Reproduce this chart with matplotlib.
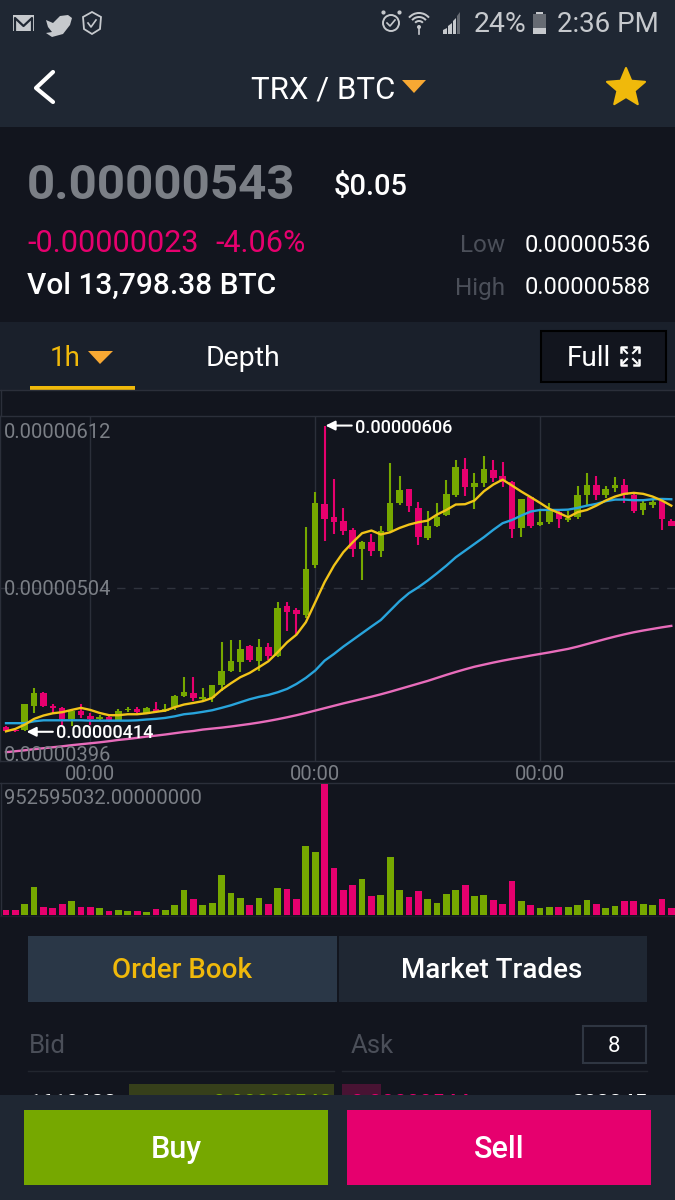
import numpy as np
import matplotlib
matplotlib.use("Agg")
import matplotlib.pyplot as plt
from matplotlib.patches import Rectangle, Polygon, Circle, Wedge

plt.rcParams["font.family"] = ["Roboto", "DejaVu Sans"]

#
# Chart data, prices in units of 1e-8 BTC, volume in millions
#

opens = [417.3, 415.2, 415.2, 430.4, 438.6, 430.4, 429.0, 422.1, 427.3, 423.7, 422.1, 423.1,
         421.4, 427.5, 428.6, 425.6, 428.3, 427.3, 429.4, 436.5, 438.6, 434.6, 435.2, 443.4,
         452.4, 457.6, 467.6, 458.6, 467.4, 461.8, 492.7, 490.6, 487.5, 518.6, 557.1, 548.5,
         546.4, 540.6, 528.7, 532.8, 527.6, 539.7, 557.3, 566.3, 554.6, 535.4, 543.3, 550.2,
         562.5, 579.0, 567.3, 570.3, 578.4, 574.2, 570.5, 541.6, 561.1, 543.5, 545.8, 552.1,
         547.1, 548.5, 562.7, 568.6, 562.7, 567.1, 569.0, 562.7, 553.1, 556.3, 558.6, 546.0]
closes = [414.8, 414.2, 431.5, 438.6, 430.4, 428.8, 422.1, 427.3, 424.6, 422.3, 423.1, 421.4,
          427.3, 428.3, 426.3, 429.0, 426.7, 428.3, 436.3, 439.2, 435.2, 435.7, 443.4, 452.2,
          458.6, 466.2, 459.1, 467.4, 461.8, 491.5, 489.4, 487.7, 516.1, 557.5, 547.5, 545.8,
          540.2, 528.7, 532.8, 527.2, 540.2, 557.5, 565.7, 555.8, 536.4, 543.3, 548.9, 563.2,
          580.3, 567.3, 570.3, 579.0, 573.2, 570.5, 541.2, 560.2, 543.3, 545.4, 553.5, 547.5,
          548.1, 562.7, 568.6, 562.5, 566.5, 569.0, 562.7, 552.7, 557.3, 558.1, 547.5, 542.9]
highs = [417.9, 415.8, 431.5, 441.5, 439.2, 431.5, 429.8, 428.3, 431.5, 425.6, 424.8, 423.7,
         428.3, 429.8, 429.4, 429.4, 432.9, 431.5, 437.3, 448.6, 448.6, 441.5, 443.4, 470.6,
         471.6, 471.6, 468.5, 472.2, 469.5, 495.2, 495.2, 491.7, 542.2, 564.6, 606.0, 572.6,
         554.4, 541.8, 533.5, 538.1, 543.3, 582.6, 574.4, 566.3, 558.3, 552.3, 557.3, 572.1,
         584.5, 585.5, 576.5, 587.2, 584.5, 583.4, 571.1, 560.2, 561.5, 552.7, 557.3, 553.1,
         552.7, 568.4, 576.5, 574.6, 568.4, 573.6, 572.6, 564.2, 558.6, 559.4, 559.4, 547.5]
lows = [414.4, 414.0, 414.3, 425.6, 429.4, 425.6, 418.5, 417.9, 422.7, 418.5, 421.0, 420.2,
        421.0, 426.3, 425.6, 425.2, 425.6, 426.3, 427.9, 435.7, 433.6, 433.6, 432.5, 439.8,
        451.3, 451.3, 457.6, 452.4, 459.1, 461.2, 477.5, 475.4, 485.4, 516.5, 533.5, 538.1,
        537.4, 523.4, 509.2, 524.5, 523.4, 539.1, 556.3, 551.6, 531.4, 534.3, 542.7, 549.4,
        561.5, 562.1, 553.5, 567.3, 570.9, 567.3, 535.4, 536.4, 541.6, 543.3, 544.3, 541.6,
        545.4, 547.5, 556.0, 559.4, 560.4, 564.6, 557.3, 551.2, 550.2, 554.4, 540.6, 542.9]

ma_yellow = [414.3, 415.8, 418.5, 422.1, 424.2, 425.6, 426.3, 427.7, 429.0, 427.7, 425.8, 424.4,
             424.4, 425.0, 425.0, 425.6, 426.5, 427.3, 429.4, 431.1, 432.1, 433.2, 435.2, 440.3,
             444.4, 448.2, 450.9, 454.5, 458.2, 463.9, 470.1, 474.9, 482.7, 495.2, 507.8, 518.2,
             526.6, 532.8, 538.5, 540.2, 537.7, 539.1, 541.8, 543.9, 545.4, 546.4, 550.2, 553.1,
             556.5, 556.7, 559.0, 564.8, 569.0, 572.1, 568.4, 564.6, 561.1, 557.5, 553.7, 551.2,
             548.5, 551.7, 553.1, 555.8, 559.0, 561.5, 563.2, 563.8, 563.2, 561.5, 559.0, 555.8]
ma_blue = [419.4, 419.4, 419.4, 420.6, 421.2, 421.2, 421.2, 421.2, 421.2, 421.0, 421.0, 421.0,
           421.0, 421.0, 421.2, 421.7, 422.1, 422.7, 423.7, 425.0, 425.6, 426.5, 427.5, 429.0,
           430.6, 432.5, 434.4, 435.9, 437.1, 438.8, 440.9, 444.0, 447.8, 452.4, 458.6, 462.8,
           467.4, 471.6, 475.8, 480.0, 484.1, 490.0, 495.9, 500.9, 504.6, 508.8, 513.4, 518.2,
           523.4, 527.6, 531.8, 536.0, 540.6, 544.8, 546.8, 549.6, 552.1, 553.1, 553.1, 553.1,
           553.3, 554.4, 555.8, 556.9, 558.6, 559.6, 559.6, 559.2, 559.2, 559.8, 560.0, 559.8]
ma_pink = [401.2, 401.8, 402.4, 403.1, 403.7, 404.3, 404.9, 405.6, 406.2, 406.8, 407.4, 408.1,
           408.9, 409.5, 410.2, 411.0, 411.6, 412.3, 413.1, 413.9, 414.5, 415.4, 416.0, 416.6,
           417.3, 418.1, 418.9, 419.8, 420.8, 421.9, 423.1, 424.4, 425.8, 427.3, 428.8, 430.3,
           431.8, 433.2, 434.6, 436.0, 437.5, 439.1, 440.8, 442.5, 444.2, 445.9, 447.8, 449.7,
           451.5, 453.2, 454.8, 456.1, 457.4, 458.6, 459.7, 460.7, 461.8, 462.8, 463.8, 464.9,
           466.0, 467.4, 469.0, 470.6, 472.2, 473.7, 475.1, 476.4, 477.5, 478.5, 479.5, 480.4]

volumes = [36, 36, 82, 206, 56, 48, 78, 104, 56, 56, 48, 29, 36, 29, 29, 22, 44, 36,
           75, 179, 116, 75, 90, 293, 158, 124, 75, 124, 82, 199, 191, 116, 499, 458, 952.6, 342,
           179, 218, 259, 138, 145, 422, 184, 131, 172, 116, 90, 150, 179, 218, 138, 145, 109, 82,
           247, 104, 70, 48, 56, 56, 56, 70, 109, 82, 48, 63, 104, 104, 82, 70, 116, 48]

time_ticks = [9, 33, 57]
time_labels = ["00:00", "00:00", "00:00"]
price_labels = ["0.00000612", "0.00000504", "0.00000396"]

GREEN = "#76a800"
PINK = "#e6006e"
BG = "#12151e"
HEADER = "#1f2733"
PANEL = "#1a202b"
GOLD = "#f0b90b"
ORANGE = "#f7a833"
GREY = "#7b7f86"
DIM = "#4b4f59"
GRIDC = "#2b2f3a"
ICON = "#c6c9cd"

W, H = 675, 1200


def axes_px(x0, y0, x1, y1):
    return fig.add_axes([x0 / W, 1 - y1 / H, (x1 - x0) / W, (y1 - y0) / H])


fig = plt.figure(figsize=(6.75, 12), dpi=100, facecolor=BG)

# screen chrome, drawn in pixel coordinates
ui = axes_px(0, 0, W, H)
ui.set_xlim(0, W)
ui.set_ylim(H, 0)
ui.axis("off")
ui.add_patch(Rectangle((0, 0), W, 127, fc=HEADER, ec="none"))
ui.add_patch(Rectangle((0, 322), W, 68, fc=PANEL, ec="none"))
ui.plot([0, W], [390, 390], c=GRIDC, lw=1)
ui.plot([1, 1], [390, 416], c=GRIDC, lw=1)

# status bar icons
ui.add_patch(Rectangle((13, 15), 21, 16, fc=ICON, ec="none"))
ui.plot([15, 15, 23.5, 32, 32], [30, 18, 26, 18, 30], c=HEADER, lw=1.6)
ui.add_patch(Polygon([(46, 20), (53, 23), (60, 16), (68, 15), (72, 18), (70, 25), (63, 34), (52, 37),
                      (46, 33), (52, 32), (48, 27)], fc=ICON, ec="none"))
ui.add_patch(Polygon([(92, 12), (101, 17), (100, 29), (92, 34), (84, 29), (83, 17)], fc="none",
                     ec=ICON, lw=1.3))
ui.plot([88, 91, 96], [23, 27, 20], c=ICON, lw=1.2)
ui.add_patch(Circle((391, 23), 8, fc="none", ec=ICON, lw=1.4))
ui.plot([387, 390, 395], [23, 26, 20], c=ICON, lw=1.2)
ui.plot([383, 399], [12, 12], c=ICON, ls="none", marker=".", ms=4)
for r in [14, 10, 6]:
    ui.add_patch(Wedge((419, 26), r, 220, 320, width=2, fc=ICON, ec="none"))
ui.add_patch(Circle((419, 27), 2, fc=ICON, ec="none"))
ui.plot([419, 419], [28, 34], c=ICON, lw=1.2)
ui.add_patch(Polygon([(443, 34), (443, 30), (447, 28), (447, 34)], fc=ICON, ec="none"))
ui.add_patch(Polygon([(448, 34), (448, 26), (452, 23), (452, 34)], fc=ICON, ec="none"))
ui.add_patch(Polygon([(453, 34), (453, 21), (456, 18), (456, 34)], fc=ICON, ec="none"))
ui.add_patch(Polygon([(457, 34), (457, 16), (460, 12), (460, 34)], fc="#666b73", ec="none"))
ui.add_patch(Rectangle((533, 14), 13, 20, fc="#666b73", ec="none"))
ui.add_patch(Rectangle((536, 12), 7, 2, fc=ICON, ec="none"))
ui.add_patch(Rectangle((533, 28), 13, 6, fc=ICON, ec="none"))
ui.text(474, 25, "24%", color=ICON, fontsize=20.5, va="center", ha="left")
ui.text(659, 25, "2:36 PM", color=ICON, fontsize=20, va="center", ha="right")

# title bar
ui.plot([53, 36, 53], [72, 88, 102], c="white", lw=3, solid_capstyle="round", solid_joinstyle="round")
ui.text(323, 90, "TRX / BTC", color="white", fontsize=22.5, va="center", ha="center")
ui.add_patch(Polygon([(402, 80), (426, 80), (414, 93)], fc=ORANGE, ec="none"))
star_ang = np.deg2rad(np.arange(-90, 270, 36))
star_r = np.array([20, 9] * 5)
ui.add_patch(Polygon(np.c_[626 + star_r * np.cos(star_ang), 88 + star_r * np.sin(star_ang)], fc=GOLD,
                     ec=GOLD, lw=1.5, joinstyle="round"))

# ticker block
ui.text(27, 186, "0.00000543", color=GREY, fontsize=35.5, va="center", ha="left", weight="bold")
ui.text(334, 187, "$0.05", color="white", fontsize=21, va="center", ha="left", weight="medium")
ui.text(27, 243, "-0.00000023", color=PINK, fontsize=22, va="center", ha="left")
ui.text(215, 243, "-4.06%", color=PINK, fontsize=22, va="center", ha="left")
ui.text(27, 286, "Vol 13,798.38 BTC", color="white", fontsize=21.5, va="center", ha="left", weight="medium")
ui.text(505, 246, "Low", color=DIM, fontsize=17.5, va="center", ha="right")
ui.text(505, 288, "High", color=DIM, fontsize=17.5, va="center", ha="right")
ui.text(651, 246, "0.00000536", color="white", fontsize=17, va="center", ha="right")
ui.text(651, 288, "0.00000588", color="white", fontsize=17, va="center", ha="right")

# interval tabs
ui.text(65, 359, "1h", color=GOLD, fontsize=20, va="center", ha="center")
ui.add_patch(Polygon([(88, 351), (113, 351), (100, 364)], fc=ORANGE, ec="none"))
ui.add_patch(Rectangle((30, 386), 105, 4, fc=GOLD, ec="none"))
ui.text(243, 359, "Depth", color="white", fontsize=20.5, va="center", ha="center")
ui.add_patch(Rectangle((541, 331), 125, 51, fc=BG, ec="#000000", lw=1.5))
ui.text(589, 359, "Full", color="white", fontsize=20, va="center", ha="center")
for sx, sy in [(-1, -1), (1, -1), (-1, 1), (1, 1)]:
    cx, cy = 630 + sx * 9, 356 + sy * 9
    ui.plot([cx - sx * 5, cx, cx], [cy, cy, cy - sy * 5], c="white", lw=1.8)
    ui.plot([cx - sx * 2, cx - sx * 6], [cy - sy * 2, cy - sy * 6], c="white", lw=1.5)

# order book tabs
ui.add_patch(Rectangle((28, 936), 309, 66, fc="#2a3747", ec="none"))
ui.add_patch(Rectangle((339, 936), 308, 66, fc=HEADER, ec="none"))
ui.text(182, 971, "Order Book", color=GOLD, fontsize=20, va="center", ha="center", weight="medium")
ui.text(492, 971, "Market Trades", color="white", fontsize=20, va="center", ha="center", weight="medium")
ui.text(29, 1046, "Bid", color=DIM, fontsize=18.5, va="center", ha="left")
ui.text(351, 1046, "Ask", color=DIM, fontsize=18.5, va="center", ha="left")
ui.add_patch(Rectangle((583, 1026), 63, 37, fc="none", ec="#2f3642", lw=1.5))
ui.text(614, 1046, "8", color="white", fontsize=16, va="center", ha="center")
ui.plot([28, 334], [1071, 1071], c="#22262f", lw=1)
ui.plot([342, 647], [1071, 1071], c="#22262f", lw=1)
ui.add_patch(Rectangle((129, 1084), 205, 20, fc="#363f1a", ec="none"))
ui.add_patch(Rectangle((342, 1084), 39, 20, fc="#481333", ec="none"))
ui.text(28, 1104, "1610623", color="white", fontsize=16, va="center", ha="left", weight="medium")
ui.text(333, 1104, "0.00000543", color=GREEN, fontsize=16, va="center", ha="right", weight="medium")
ui.text(351, 1104, "0.00000544", color=PINK, fontsize=16, va="center", ha="left", weight="medium")
ui.text(647, 1104, "282245", color="white", fontsize=16, va="center", ha="right", weight="medium")

# buy and sell footer
ui.add_patch(Rectangle((0, 1095), W, 105, fc=HEADER, ec="none", zorder=5))
ui.add_patch(Rectangle((24, 1110), 304, 75, fc=GREEN, ec="none", zorder=6))
ui.add_patch(Rectangle((347, 1110), 304, 75, fc=PINK, ec="none", zorder=6))
ui.text(176, 1150, "Buy", color="white", fontsize=22, va="center", ha="center", weight="medium", zorder=7)
ui.text(499, 1150, "Sell", color="white", fontsize=22, va="center", ha="center", weight="medium", zorder=7)

# candle chart
x = np.arange(len(opens))
xlim = (-6 / 9.37, (W - 6) / 9.37)
colors = [GREEN if c >= o else PINK for o, c in zip(opens, closes)]

ax = axes_px(0, 416, W, 760.5)
ax.set_facecolor(BG)
ax.set_xlim(xlim)
ax.set_ylim(396, 612)
for s in ["top", "bottom", "left"]:
    ax.spines[s].set_color(GRIDC)
    ax.spines[s].set_linewidth(1)
ax.spines["right"].set_visible(False)
ax.set_yticks([])
ax.set_xticks(time_ticks)
ax.set_xticklabels(time_labels, color=GREY, fontsize=14.5)
ax.tick_params(axis="x", length=0, pad=3)
ax.grid(axis="x", color=GRIDC, lw=1)
ax.set_axisbelow(True)
ax.axhline(504, color="#2f333d", lw=1, ls=(0, (6, 6)))

ax.vlines(x, lows, highs, colors=colors, lw=1.5, zorder=2)
ax.bar(x, np.abs(np.array(closes) - np.array(opens)), bottom=np.minimum(opens, closes), width=0.7,
       color=colors, zorder=3)
ax.plot(x, ma_pink, c="#e86cbb", lw=1.7, zorder=4)
ax.plot(x, ma_blue, c="#28a4dc", lw=1.7, zorder=4)
ax.plot(x, ma_yellow, c="#f2c418", lw=1.7, zorder=5)

for label, yy in zip(price_labels, [601.5, 503.5, 399.2]):
    ax.text(-0.25, yy, label, color=GREY, fontsize=14.5, va="center", ha="left", zorder=6)

ax.annotate("", xy=(34.1, 606), xytext=(36.9, 606), zorder=7,
            arrowprops=dict(arrowstyle="-|>", color="white", lw=1.5, mutation_scale=14, shrinkA=0, shrinkB=0))
ax.text(37.2, 604.2, "0.00000606", color="white", fontsize=13, va="center", ha="left", weight="medium", zorder=7)
ax.annotate("", xy=(2.2, 414), xytext=(5.0, 414), zorder=7,
            arrowprops=dict(arrowstyle="-|>", color="white", lw=1.5, mutation_scale=14, shrinkA=0, shrinkB=0))
ax.text(5.3, 413.4, "0.00000414", color="white", fontsize=13, va="center", ha="left", weight="medium", zorder=7)

# volume bars
ax2 = axes_px(0, 784, W, 915)
ax2.set_facecolor(BG)
ax2.set_xlim(xlim)
ax2.set_ylim(0, 952.6)
ax2.axis("off")
ax2.bar(x, volumes, width=0.72, color=colors, clip_on=True)
ax2.text(-0.2, 952.6 * 0.89, "952595032.00000000", color=GREY, fontsize=14.5, va="center", ha="left")
ui.plot([0, W], [783, 783], c=GRIDC, lw=1)
ui.plot([0, W], [915.5, 915.5], c="#1c1f29", lw=1)
ui.plot([1, 1], [783, 915], c=GRIDC, lw=1)

fig.savefig("out.png", dpi=100, facecolor=BG)
